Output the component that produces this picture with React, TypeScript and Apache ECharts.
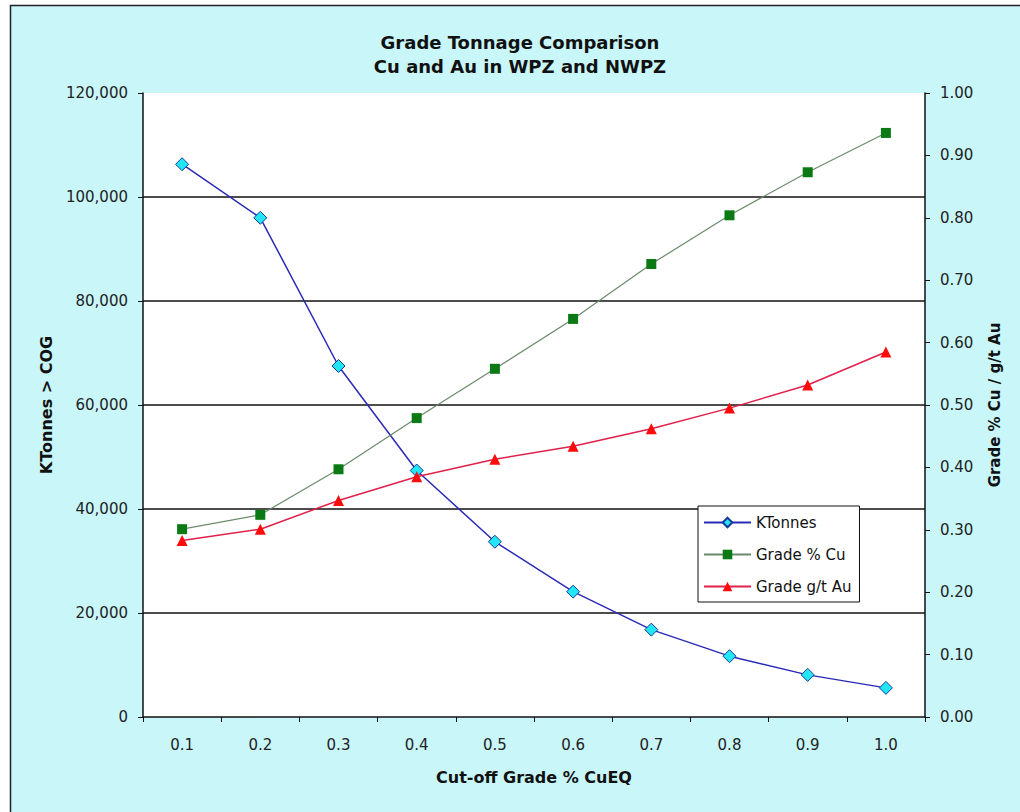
import React, { useEffect, useRef } from "react";
import * as echarts from "echarts";

const categories = ["0.1", "0.2", "0.3", "0.4", "0.5", "0.6", "0.7", "0.8", "0.9", "1.0"];
const kTonnes = [106300, 96000, 67500, 47400, 33700, 24100, 16800, 11700, 8100, 5600];
const gradeCu = [0.301, 0.324, 0.397, 0.479, 0.558, 0.638, 0.726, 0.804, 0.873, 0.936];
const gradeAu = [0.283, 0.301, 0.347, 0.385, 0.413, 0.434, 0.462, 0.495, 0.532, 0.585];

const FONT = "DejaVu Sans, Arial, sans-serif";

export default function App() {
  const ref = useRef<HTMLDivElement>(null);
  useEffect(() => {
    if (!ref.current) return;
    const chart = echarts.init(ref.current, undefined, { renderer: "svg" });
    chart.setOption({
      animation: false,
      backgroundColor: "#ffffff",
      textStyle: { fontFamily: FONT },
      graphic: [
        {
          type: "rect",
          z: -10,
          silent: true,
          shape: { x: 10.5, y: 5.5, width: 1040, height: 840 },
          style: { fill: "#c8f6f9", stroke: "#222222", lineWidth: 1.5 },
        },
      ],
      title: {
        text: "Grade Tonnage Comparison\nCu and Au in WPZ and NWPZ",
        left: 515,
        textAlign: "center",
        top: 25,
        textStyle: {
          fontFamily: FONT,
          fontSize: 18,
          fontWeight: "bold",
          color: "#111111",
          lineHeight: 24,
        },
      },
      legend: {
        orient: "vertical",
        left: 698,
        top: 506,
        backgroundColor: "#ffffff",
        borderColor: "#111111",
        borderWidth: 1,
        borderRadius: 0,
        padding: [9, 8, 8, 5],
        itemWidth: 47,
        itemHeight: 12,
        itemGap: 17,
        textStyle: { fontFamily: FONT, fontSize: 15, lineHeight: 14, color: "#111111" },
        data: ["KTonnes", "Grade % Cu", "Grade g/t Au"],
      },
      grid: {
        left: 143,
        top: 93,
        right: 95,
        bottom: 95,
        show: true,
        backgroundColor: "#ffffff",
        borderWidth: 0,
      },
      xAxis: {
        type: "category",
        data: categories,
        boundaryGap: true,
        name: "Cut-off Grade % CuEQ",
        nameLocation: "middle",
        nameGap: 52,
        nameTextStyle: { fontFamily: FONT, fontSize: 16, fontWeight: "bold", color: "#111111" },
        axisLine: { lineStyle: { color: "#111111", width: 1.5 } },
        axisTick: { show: true, inside: false, length: 5, lineStyle: { color: "#111111" } },
        axisLabel: { fontFamily: FONT, fontSize: 15, color: "#222222", margin: 20 },
        splitLine: { show: false },
      },
      yAxis: [
        {
          type: "value",
          min: 0,
          max: 120000,
          interval: 20000,
          name: "KTonnes > COG",
          nameLocation: "middle",
          nameGap: 89,
          nameTextStyle: { fontFamily: FONT, fontSize: 16, fontWeight: "bold", color: "#111111" },
          axisLine: { show: true, lineStyle: { color: "#111111", width: 1.5 } },
          axisTick: { show: true, inside: false, length: 5, lineStyle: { color: "#111111" } },
          axisLabel: {
            fontFamily: FONT,
            fontSize: 15,
            color: "#222222",
            margin: 15,
            formatter: (v: number) => v.toLocaleString("en-US"),
          },
          splitLine: { show: true, showMinLine: false, showMaxLine: false, lineStyle: { color: "#111111", width: 1.5 } },
        },
        {
          type: "value",
          min: 0,
          max: 1,
          interval: 0.1,
          position: "right",
          name: "Grade % Cu / g/t Au",
          nameLocation: "middle",
          nameGap: 62,
          nameRotate: 90,
          nameTextStyle: { fontFamily: FONT, fontSize: 15, fontWeight: "bold", color: "#111111" },
          axisLine: { show: true, lineStyle: { color: "#111111", width: 1.5 } },
          axisTick: { show: true, inside: false, length: 5, lineStyle: { color: "#111111" } },
          axisLabel: {
            fontFamily: FONT,
            fontSize: 15,
            color: "#222222",
            margin: 15,
            formatter: (v: number) => v.toFixed(2),
          },
          splitLine: { show: false },
        },
      ],
      series: [
        {
          name: "KTonnes",
          type: "line",
          yAxisIndex: 0,
          data: kTonnes,
          symbol: "diamond",
          symbolSize: 13,
          lineStyle: { color: "#2a2ab8", width: 1.5 },
          itemStyle: { color: "#22e5f5", borderColor: "#1a3a9a", borderWidth: 1 },
          z: 3,
        },
        {
          name: "Grade % Cu",
          type: "line",
          yAxisIndex: 1,
          data: gradeCu,
          symbol: "rect",
          symbolSize: 10,
          lineStyle: { color: "#6a8a6a", width: 1.2 },
          itemStyle: { color: "#0b7a14", borderColor: "#0b6a14", borderWidth: 0 },
          z: 4,
        },
        {
          name: "Grade g/t Au",
          type: "line",
          yAxisIndex: 1,
          data: gradeAu,
          symbol: "triangle",
          symbolSize: 11,
          lineStyle: { color: "#e0204a", width: 1.5 },
          itemStyle: { color: "#ff0a0a", borderWidth: 0 },
          z: 5,
        },
      ],
    });
    return () => chart.dispose();
  }, []);
  return (
    <div
      ref={ref}
      style={{ position: "fixed", left: 0, top: 0, width: 1020, height: 812 }}
    />
  );
}
